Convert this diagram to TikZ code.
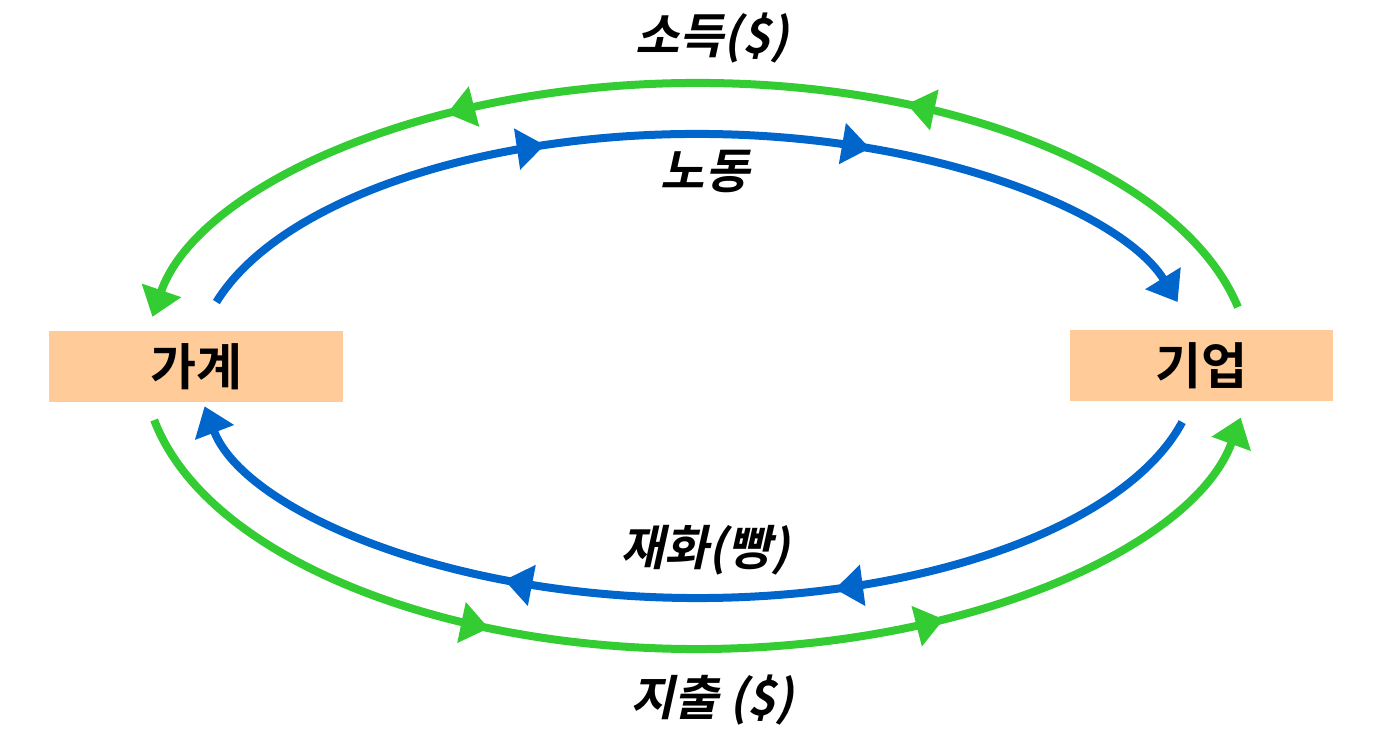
\documentclass[tikz,border=0pt]{standalone}
\usepackage{fontspec}
\newfontfamily\kobold{Noto Sans CJK KR Bold}
\newfontfamily\koslant{Noto Sans CJK KR Bold}[FakeSlant=0.22]
\usepackage{xcolor}
\usepackage{tikz}
\usetikzlibrary{arrows.meta}
\usetikzlibrary{decorations.markings}
\usetikzlibrary{calc}

\definecolor{flowgreen}{HTML}{33CC33}
\definecolor{flowblue}{HTML}{0066CC}
\definecolor{boxpeach}{HTML}{FFCC99}

\begin{document}
\begin{tikzpicture}[
x=1pt, y=1pt,
sector/.style={
  rectangle,
  fill=boxpeach,
  minimum height=71pt,
  inner sep=0pt,
  font=\kobold\fontsize{50}{56}\selectfont
},
flow/.style={
  inner sep=0pt,
  font=\koslant\fontsize{48}{54}\selectfont
},
money/.style={line width=8pt, draw=flowgreen, color=flowgreen, -{Triangle[length=28pt,width=40pt]}},
goods/.style={line width=8pt, draw=flowblue, color=flowblue, -{Triangle[length=28pt,width=40pt]}},
twotips/.style 2 args={
  postaction={decorate},
  decoration={markings,
    mark=at position #1 with {\arrow{Triangle[length=28pt,width=40pt]}},
    mark=at position #2 with {\arrow{Triangle[length=28pt,width=40pt]}}}
}
]
\useasboundingbox (0,0) rectangle (1388,735);

% ---- sectors ----
\node[sector, minimum width=294pt] (home) at (196,368.5) {가계};
\node[sector, minimum width=263pt] (firm) at (1201.5,369.5) {기업};

\coordinate (ctr) at (697,369);

% ---- money flows (outer) ----
\draw[money, twotips={0.325}{0.70}] ($(ctr)+(12:553 and 283)$)
  arc[start angle=12, end angle=170, x radius=553, y radius=283];
\draw[money, twotips={0.33}{0.70}] ($(ctr)+(191:553 and 283)$)
  arc[start angle=191, end angle=349.5, x radius=553, y radius=283];

% ---- real flows (inner) ----
\draw[goods, twotips={0.355}{0.665}] ($(ctr)+(164:500 and 232)$)
  arc[start angle=164, end angle=16, x radius=500, y radius=232];
\draw[goods, twotips={0.365}{0.67}] ($(ctr)+(-14:500 and 232)$)
  arc[start angle=-14, end angle=-170, x radius=500, y radius=232];

% ---- labels ----
\node[flow] (income) at (712,697) {소득(\$)};
\node[flow] (labour) at (705,563) {노동};
\node[flow] (bread) at (705,185) {재화(빵)};
\node[flow] (spend) at (712,35) {지출 (\$)};

\end{tikzpicture}
\end{document}
